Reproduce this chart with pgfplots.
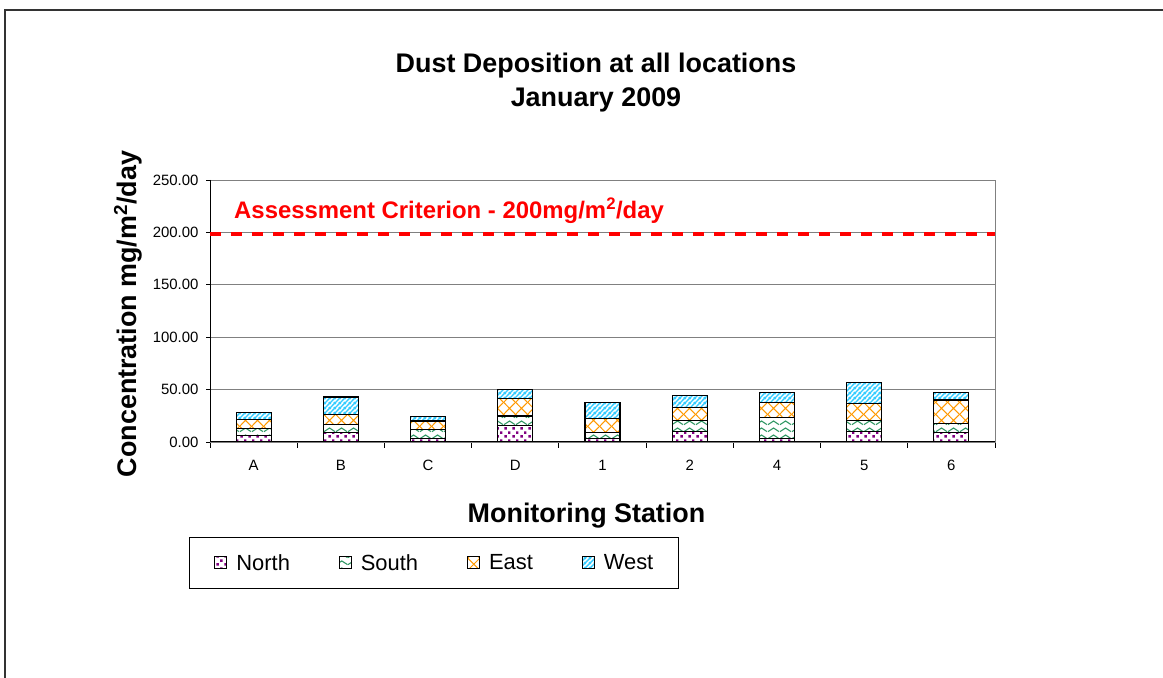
\documentclass[border=0pt]{standalone}
\usepackage{pgfplots}
\pgfplotsset{compat=1.18}
\usepackage{pgfplotstable}
\usepackage{fontspec}
\setmainfont{Liberation Sans}
\usetikzlibrary{patterns}

\definecolor{cNorth}{HTML}{800080}
\definecolor{cSouth}{HTML}{339966}
\definecolor{cEast}{HTML}{FF9900}
\definecolor{cWest}{HTML}{33CCFF}
\definecolor{gridgray}{HTML}{808080}

\pgfdeclarepatternformonly{confetti}{\pgfqpoint{0bp}{0bp}}{\pgfqpoint{8bp}{8bp}}{\pgfqpoint{8bp}{8bp}}{%
  \pgfpathrectangle{\pgfqpoint{0.5bp}{0.5bp}}{\pgfqpoint{2.7bp}{2.7bp}}%
  \pgfpathrectangle{\pgfqpoint{4.5bp}{4.5bp}}{\pgfqpoint{2.7bp}{2.7bp}}%
  \pgfusepath{fill}}
\pgfdeclarepatternformonly{wave}{\pgfqpoint{0bp}{0bp}}{\pgfqpoint{12bp}{7bp}}{\pgfqpoint{12bp}{7bp}}{%
  \pgfsetlinewidth{1.2bp}%
  \pgfpathmoveto{\pgfqpoint{0bp}{1.5bp}}%
  \pgfpathcurveto{\pgfqpoint{3bp}{1.5bp}}{\pgfqpoint{3bp}{5.5bp}}{\pgfqpoint{6bp}{5.5bp}}%
  \pgfpathcurveto{\pgfqpoint{9bp}{5.5bp}}{\pgfqpoint{9bp}{1.5bp}}{\pgfqpoint{12bp}{1.5bp}}%
  \pgfusepath{stroke}}
\pgfdeclarepatternformonly{xzig}{\pgfqpoint{0bp}{0bp}}{\pgfqpoint{12bp}{12bp}}{\pgfqpoint{12bp}{12bp}}{%
  \pgfsetlinewidth{1.1bp}%
  \pgfpathmoveto{\pgfqpoint{-1bp}{-1bp}}\pgfpathlineto{\pgfqpoint{13bp}{13bp}}%
  \pgfpathmoveto{\pgfqpoint{-1bp}{13bp}}\pgfpathlineto{\pgfqpoint{13bp}{-1bp}}%
  \pgfusepath{stroke}}
\pgfdeclarepatternformonly{wstripe}{\pgfqpoint{0bp}{0bp}}{\pgfqpoint{5bp}{5bp}}{\pgfqpoint{5bp}{5bp}}{%
  \pgfsetlinewidth{1.6bp}%
  \pgfpathmoveto{\pgfqpoint{-1bp}{-1bp}}\pgfpathlineto{\pgfqpoint{6bp}{6bp}}%
  \pgfpathmoveto{\pgfqpoint{-1bp}{4bp}}\pgfpathlineto{\pgfqpoint{1bp}{6bp}}%
  \pgfpathmoveto{\pgfqpoint{4bp}{-1bp}}\pgfpathlineto{\pgfqpoint{6bp}{1bp}}%
  \pgfusepath{stroke}}

\pgfplotstableread{
x  N     S     E     W
0  6.1   6.8   8.4   6.8
1  9.0   7.8   9.7   16.5
2  3.2   9.0   7.8   4.2
3  15.8  9.0   16.8  8.4
4  3.2   5.5   13.6  15.5
5  10.0  10.7  12.3  11.6
6  3.2   20.0  14.2  10.0
7  10.0  10.7  16.1  20.0
8  9.0   8.4   22.6  7.4
}\dusttable

\begin{document}
\begin{tikzpicture}
\useasboundingbox (0,0) rectangle (1163bp,678bp);
\draw[line width=1.5bp, black!80] (5bp,0bp) -- (5bp,668bp) -- (1163bp,668bp);

\node[anchor=base, font=\bfseries\fontsize{27}{31}\selectfont] at (596bp,605.5bp) {Dust Deposition at all locations};
\node[anchor=base, font=\bfseries\fontsize{27}{31}\selectfont] at (596bp,571.5bp) {January 2009};

\begin{axis}[
  at={(210bp,236bp)}, anchor=south west,
  scale only axis, width=785bp, height=262bp,
  ybar stacked, bar width=35bp,
  xmin=-0.5, xmax=8.5, ymin=0, ymax=250,
  xtick={0,...,8}, xticklabels={A,B,C,D,1,2,4,5,6},
  minor xtick={-0.5,0.5,...,8.5},
  ytick={0,50,...,250},
  xtick pos=bottom, ytick pos=left, tick align=outside,
  major x tick style={draw=none},
  minor x tick style={black, line width=0.8bp},
  minor tick length=6bp,
  major y tick style={black, line width=0.8bp},
  major tick length=4bp,
  ymajorgrids, grid style={gridgray, line width=0.9bp},
  axis line style={gridgray, line width=0.9bp},
  /pgf/number format/assume math mode=true,
  yticklabel style={xshift=-4bp, /pgf/number format/.cd, fixed, fixed zerofill, precision=2},
  tick label style={font=\fontsize{15}{18}\selectfont},
  xticklabel style={yshift=-11bp},
  legend columns=4,
  legend style={at={(-0.0268,-0.3626)}, anchor=north west, draw=black, line width=1bp,
    font=\fontsize{22}{26}\selectfont, inner xsep=25bp, inner ysep=16bp,
    nodes={inner xsep=0bp, inner ysep=1bp},
    /tikz/every odd column/.append style={column sep=9bp},
    /tikz/every even column/.append style={column sep=49bp}},
  legend image code/.code={\draw[#1, draw=black, line width=0.9bp] (0bp,-5bp) rectangle (12bp,7bp);},
]
\addplot[fill=white, draw=black, line width=1.2bp, postaction={pattern=confetti, pattern color=cNorth}] table[x=x,y=N] {\dusttable};
\addlegendentry{North}
\addplot[fill=white, draw=black, line width=1.2bp, postaction={pattern=wave, pattern color=cSouth}] table[x=x,y=S] {\dusttable};
\addlegendentry{South}
\addplot[fill=white, draw=black, line width=1.2bp, postaction={pattern=xzig, pattern color=cEast}] table[x=x,y=E] {\dusttable};
\addlegendentry{East}
\addplot[fill=white, draw=black, line width=1.2bp, postaction={pattern=wstripe, pattern color=cWest}] table[x=x,y=W] {\dusttable};
\addlegendentry{West}
\draw[red, line width=4bp, dash pattern=on 11bp off 10bp] (axis cs:-0.5,198) -- (axis cs:8.5,198);
\draw[black, line width=1bp] (rel axis cs:0,1) -- (rel axis cs:0,0) -- (rel axis cs:1,0);
\end{axis}

\node[anchor=base west, text=red, font=\bfseries\fontsize{24}{28}\selectfont, inner sep=0pt] at (234bp,459.5bp) {Assessment Criterion - 200mg/m\textsuperscript{2}/day};
\node[anchor=center, rotate=90, font=\bfseries\fontsize{27}{31}\selectfont] at (128bp,364bp) {Concentration mg/m\textsuperscript{2}/day};
\node[anchor=base, font=\bfseries\fontsize{27}{31}\selectfont] at (586.5bp,155.5bp) {Monitoring Station};
\end{tikzpicture}
\end{document}
